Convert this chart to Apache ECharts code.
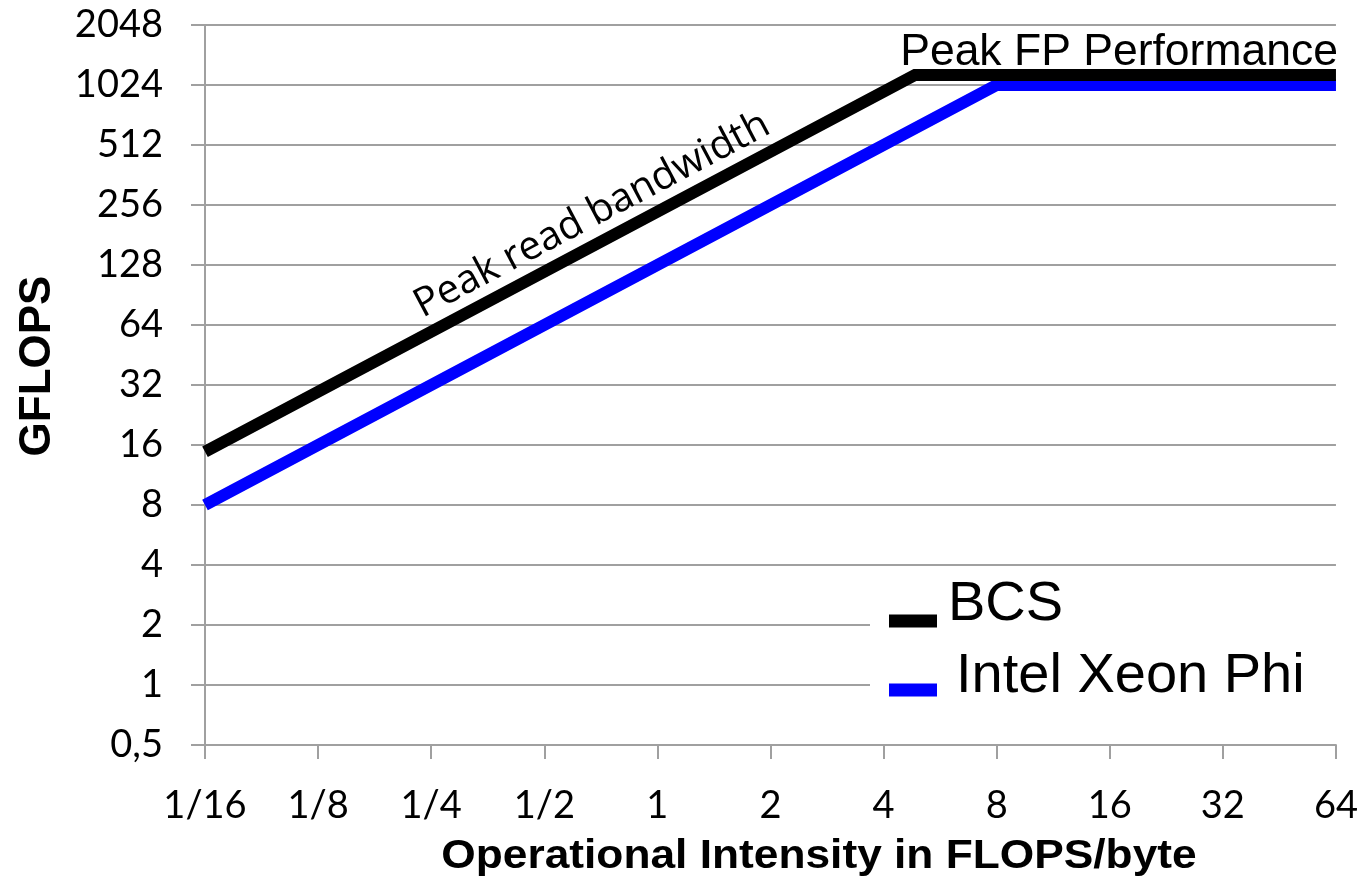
<!DOCTYPE html>
<html>
<head>
<meta charset="utf-8">
<script src="https://cdn.jsdelivr.net/npm/echarts@6/dist/echarts.min.js"></script>
<style>
  html, body { margin: 0; padding: 0; background: #fff; }
  #c { width: 1361px; height: 885px; }
</style>
</head>
<body>
<div id="c"></div>
<script>
// ---- data ----
const xTickValues = [1/16, 1/8, 1/4, 1/2, 1, 2, 4, 8, 16, 32, 64];
const xTickLabels = ['1/16', '1/8', '1/4', '1/2', '1', '2', '4', '8', '16', '32', '64'];
const yTickValues = [0.5, 1, 2, 4, 8, 16, 32, 64, 128, 256, 512, 1024, 2048];
const yTickLabels = ['0,5', '1', '2', '4', '8', '16', '32', '64', '128', '256', '512', '1024', '2048'];

const seriesNames = ['BCS', 'Intel Xeon Phi'];
const bcsX = [1/16, 4.85, 64];
const bcsY = [14.8, 1150, 1150];
const phiX = [1/16, 8, 64];
const phiY = [8, 1024, 1024];

const xAxisTitle = 'Operational Intensity in FLOPS/byte';
const yAxisTitle = 'GFLOPS';
const annotationTexts = ['Peak read bandwidth', 'Peak FP Performance'];

// ---- chart ----
const gridColor = '#a0a0a0';
const chart = echarts.init(document.getElementById('c'), null, { renderer: 'canvas' });

function labelFor(values, labels, v) {
  let best = 0, bd = Infinity;
  values.forEach((t, i) => { const d = Math.abs(Math.log2(t) - Math.log2(v)); if (d < bd) { bd = d; best = i; } });
  return bd < 0.01 ? labels[best] : '';
}

const option = {
  backgroundColor: '#ffffff',
  animation: false,
  grid: { left: 205, right: 25, top: 25, bottom: 140 },
  xAxis: {
    type: 'log', logBase: 2,
    min: xTickValues[0], max: xTickValues[xTickValues.length - 1],
    interval: 1,
    axisLine: { show: true, lineStyle: { color: gridColor, width: 2 } },
    axisTick: { show: true, inside: false, length: 14, lineStyle: { color: gridColor, width: 2 } },
    axisLabel: { margin: 42, fontFamily: 'Lato', fontSize: 38, color: '#000',
      formatter: v => labelFor(xTickValues, xTickLabels, v) },
    splitLine: { show: false },
    minorTick: { show: false }
  },
  yAxis: {
    type: 'log', logBase: 2,
    min: yTickValues[0], max: yTickValues[yTickValues.length - 1],
    interval: 1,
    name: yAxisTitle,
    nameLocation: 'middle', nameRotate: 90, nameGap: 145,
    nameTextStyle: { fontFamily: 'Liberation Sans', fontWeight: 'bold', fontSize: 44, color: '#000', padding: [0, 0, 0, 38] },
    axisLine: { show: true, lineStyle: { color: gridColor, width: 2 } },
    axisTick: { show: true, inside: false, length: 14, lineStyle: { color: gridColor, width: 2 } },
    axisLabel: { margin: 42, fontFamily: 'Lato', fontSize: 38, color: '#000',
      formatter: v => labelFor(yTickValues, yTickLabels, v) },
    splitLine: { show: true, lineStyle: { color: gridColor, width: 2 } }
  },
  legend: {
    orient: 'vertical',
    left: 870, top: 567,
    padding: [10, 60, 4, 19],
    backgroundColor: '#ffffff',
    itemWidth: 48, itemHeight: 13, itemGap: -16,
    icon: 'rect',
    data: seriesNames,
    formatter: name => (name === seriesNames[0] ? '{a|' + name + '}' : '{b|' + name + '}'),
    textStyle: {
      fontFamily: 'Liberation Sans', fontSize: 56, color: '#000',
      rich: {
        a: { fontFamily: 'Liberation Sans', fontSize: 56, color: '#000', lineHeight: 40, padding: [0, 0, 32, 6] },
        b: { fontFamily: 'Liberation Sans', fontSize: 56, color: '#000', lineHeight: 44, padding: [0, 0, 26, 14] }
      }
    }
  },
  series: [
    {
      name: seriesNames[0], type: 'line', symbol: 'none', clip: false,
      data: bcsX.map((x, i) => [x, bcsY[i]]),
      color: '#000000',
      lineStyle: { color: '#000000', width: 12, cap: 'butt', join: 'miter' },
      z: 3
    },
    {
      name: seriesNames[1], type: 'line', symbol: 'none', clip: false,
      data: phiX.map((x, i) => [x, phiY[i]]),
      color: '#0000ff',
      lineStyle: { color: '#0000ff', width: 12, cap: 'butt', join: 'miter' },
      z: 2
    }
  ]
};
chart.setOption(option);

// annotations anchored in data coordinates
const pBW = chart.convertToPixel({ gridIndex: 0 }, [0.646, 236]);
const pFP = chart.convertToPixel({ gridIndex: 0 }, [64, 1480]);
const pA = chart.convertToPixel({ gridIndex: 0 }, [1/16, 1]);
const pB = chart.convertToPixel({ gridIndex: 0 }, [1/8, 2]);
const angle = Math.atan2(pA[1] - pB[1], pB[0] - pA[0]);
chart.setOption({
  graphic: [
    {
      type: 'text', x: pBW[0] + 6, y: pBW[1] + 3, rotation: angle, z: 10,
      style: { text: annotationTexts[0], fontFamily: 'Open Sans', fontSize: 40, fill: '#000', align: 'center', verticalAlign: 'middle' }
    },
    {
      type: 'text', x: pFP[0] + 2, y: pFP[1], z: 10,
      style: { text: annotationTexts[1], fontFamily: 'Liberation Sans', fontSize: 44.5, fill: '#000', align: 'right', verticalAlign: 'middle' }
    },
    {
      type: 'text', x: 819, y: 857, scaleX: 1.08, z: 10,
      style: { text: xAxisTitle, fontFamily: 'Liberation Sans', fontWeight: 'bold', fontSize: 41, fill: '#000', align: 'center', verticalAlign: 'middle' }
    }
  ]
});
</script>
</body>
</html>
